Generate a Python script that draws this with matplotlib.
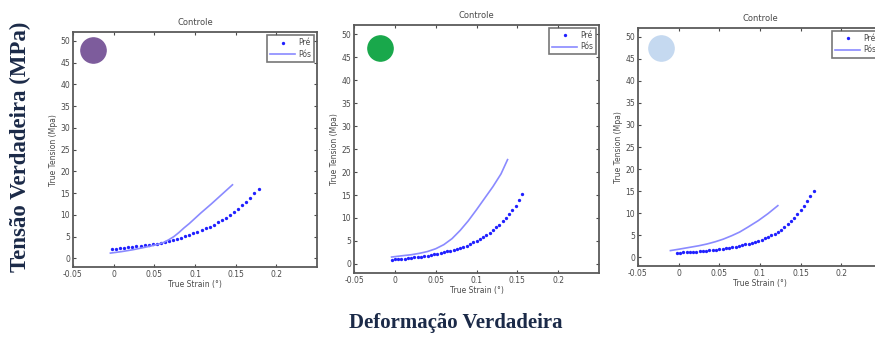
import matplotlib
matplotlib.use("Agg")
import matplotlib.pyplot as plt

# ------------------ Data ------------------
# Pré: measured points (dots); Pós: fitted curve (line)
pre_strain_1 = [-0.002, 0.003, 0.008, 0.013, 0.018, 0.023, 0.028, 0.033, 0.038, 0.043,
                0.048, 0.053, 0.058, 0.063, 0.068, 0.073, 0.078, 0.083, 0.088, 0.093,
                0.098, 0.103, 0.108, 0.113, 0.118, 0.123, 0.128, 0.133, 0.138, 0.143,
                0.148, 0.153, 0.158, 0.163, 0.168, 0.173, 0.178]
pre_stress_1 = [2.10, 2.20, 2.30, 2.40, 2.50, 2.60, 2.72, 2.84, 2.97, 3.10,
                3.24, 3.39, 3.56, 3.76, 3.98, 4.22, 4.48, 4.76, 5.06, 5.38,
                5.73, 6.10, 6.48, 6.88, 7.30, 7.76, 8.25, 8.78, 9.35, 9.96,
                10.62, 11.35, 12.15, 13.02, 13.96, 14.95, 16.0]
pos_strain_1 = [-0.004, 0.01, 0.023, 0.035, 0.045, 0.055, 0.062, 0.068, 0.074, 0.08,
                0.0865, 0.093, 0.1, 0.107, 0.12, 0.133, 0.146]
pos_stress_1 = [1.2, 1.55, 1.95, 2.4, 2.8, 3.25, 3.7, 4.3, 5.0, 5.9,
                7.0, 8.0, 9.2, 10.4, 12.5, 14.7, 16.9]

pre_strain_2 = [-0.004, 0.000, 0.004, 0.008, 0.012, 0.016, 0.020, 0.024, 0.028, 0.032,
                0.036, 0.040, 0.044, 0.048, 0.052, 0.056, 0.060, 0.064, 0.068, 0.072,
                0.076, 0.080, 0.084, 0.088, 0.092, 0.096, 0.100, 0.104, 0.108, 0.112,
                0.116, 0.120, 0.124, 0.128, 0.132, 0.136, 0.140, 0.144, 0.148, 0.152, 0.156]
pre_stress_2 = [0.95, 1.00, 1.05, 1.10, 1.16, 1.23, 1.31, 1.40, 1.50, 1.60,
                1.71, 1.83, 1.96, 2.10, 2.25, 2.41, 2.57, 2.73, 2.88, 3.05,
                3.25, 3.47, 3.72, 4.00, 4.32, 4.67, 5.05, 5.45, 5.88, 6.33,
                6.82, 7.35, 7.93, 8.56, 9.24, 9.98, 10.80, 11.70, 12.70, 13.85, 15.20]
pos_strain_2 = [-0.004, 0.01, 0.02, 0.03, 0.04, 0.05, 0.06, 0.07, 0.08, 0.09,
                0.1, 0.11, 0.12, 0.13, 0.138]
pos_stress_2 = [1.5, 1.8, 2.0, 2.3, 2.7, 3.3, 4.2, 5.5, 7.3, 9.4,
                11.8, 14.3, 16.8, 19.6, 22.7]

pre_strain_3 = [-0.002, 0.002, 0.006, 0.010, 0.014, 0.018, 0.022, 0.026, 0.030, 0.034,
                0.038, 0.042, 0.046, 0.050, 0.054, 0.058, 0.062, 0.066, 0.070, 0.074,
                0.078, 0.082, 0.086, 0.090, 0.094, 0.098, 0.102, 0.106, 0.110, 0.114,
                0.118, 0.122, 0.126, 0.130, 0.134, 0.138, 0.142, 0.146, 0.150, 0.154,
                0.158, 0.162, 0.166]
pre_stress_3 = [1.00, 1.04, 1.08, 1.12, 1.17, 1.22, 1.27, 1.33, 1.40, 1.47,
                1.55, 1.63, 1.72, 1.81, 1.91, 2.02, 2.14, 2.27, 2.41, 2.56,
                2.72, 2.89, 3.07, 3.27, 3.49, 3.73, 3.99, 4.27, 4.58, 4.93,
                5.32, 5.76, 6.25, 6.80, 7.42, 8.12, 8.90, 9.76, 10.70, 11.72,
                12.82, 13.98, 15.10]
pos_strain_3 = [-0.01, 0.0, 0.0125, 0.025, 0.035, 0.045, 0.055, 0.0656, 0.075, 0.085,
                0.098, 0.11, 0.122]
pos_stress_3 = [1.5, 1.8, 2.2, 2.6, 3.0, 3.5, 4.1, 4.9, 5.7, 6.8,
                8.3, 9.9, 11.7]

x_ticks = [-0.05, 0, 0.05, 0.1, 0.15, 0.2]
x_tick_labels = ["-0.05", "0", "0.05", "0.1", "0.15", "0.2"]
y_ticks = [0, 5, 10, 15, 20, 25, 30, 35, 40, 45, 50]

panels = [
    (pre_strain_1, pre_stress_1, pos_strain_1, pos_stress_1, "#7d5c9c"),
    (pre_strain_2, pre_stress_2, pos_strain_2, pos_stress_2, "#19a84b"),
    (pre_strain_3, pre_stress_3, pos_strain_3, pos_stress_3, "#c5d9f0"),
]

# axes boxes in figure fractions and the dot position inside each
positions = [
    [0.0834, 0.210, 0.279, 0.695],
    [0.4046, 0.192, 0.280, 0.734],
    [0.7290, 0.213, 0.279, 0.704],
]
dot_pos = [(0.082, 0.923), (0.106, 0.908), (0.094, 0.917)]

# ------------------ Plot ------------------
fig = plt.figure(figsize=(8.75, 3.38), dpi=100)
txt = "#4a4a4a"

for (ps, pt, qs, qt, dot_color), pos, dp in zip(panels, positions, dot_pos):
    ax = fig.add_axes(pos)
    ax.plot(ps, pt, linestyle="none", marker="o", markersize=2.4,
            color="#2020ff", markeredgewidth=0, label="Pré")
    ax.plot(qs, qt, color="#8a8aff", linewidth=1.2, label="Pós")
    ax.scatter([dp[0]], [dp[1]], s=330, color=dot_color, transform=ax.transAxes,
               zorder=5, clip_on=False)

    ax.set_xlim(-0.05, 0.25)
    ax.set_ylim(-2, 52)
    ax.set_xticks(x_ticks)
    ax.set_xticklabels(x_tick_labels)
    ax.set_yticks(y_ticks)
    ax.tick_params(direction="in", top=True, right=True, length=2.5, width=0.8,
                   labelsize=5.5, colors=txt, pad=2)
    for s in ax.spines.values():
        s.set_color("#5a5a5a")
        s.set_linewidth(1.3)

    ax.set_title("Controle", fontsize=6, color=txt, pad=5)
    ax.set_xlabel("True Strain (°)", fontsize=5.5, color=txt, labelpad=1)
    ax.set_ylabel("True Tension (Mpa)", fontsize=5.5, color=txt, labelpad=2)

    leg = ax.legend(loc="upper right", fontsize=5.5, fancybox=False,
                    handlelength=3.2, borderpad=0.4, labelspacing=0.3,
                    handletextpad=0.4, borderaxespad=0.4)
    leg.get_frame().set_edgecolor("#555555")
    leg.get_frame().set_linewidth(1.2)
    for t in leg.get_texts():
        t.set_color(txt)

navy = "#1b2a48"
fig.text(0.023, 0.565, "Tensão Verdadeira (MPa)", rotation=90, ha="center", va="center",
         fontsize=16.5, fontweight="bold", family="Liberation Serif", color=navy)
fig.text(0.521, 0.044, "Deformação Verdadeira", ha="center", va="center",
         fontsize=15, fontweight="bold", family="Liberation Serif", color=navy)

fig.savefig("out.png", dpi=100)
